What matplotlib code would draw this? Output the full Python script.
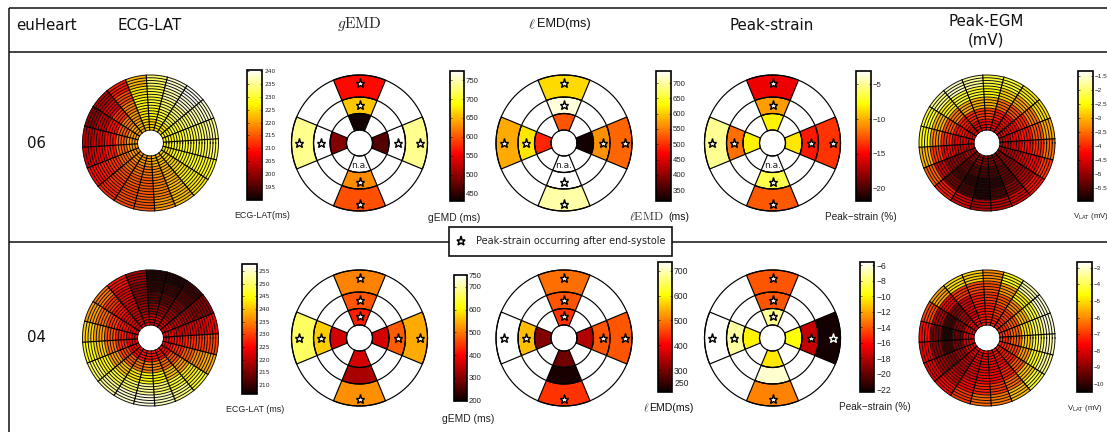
import numpy as np
import matplotlib
matplotlib.use("Agg")
import matplotlib.pyplot as plt
from matplotlib.patches import Rectangle
from matplotlib.collections import PolyCollection
from matplotlib.colors import Normalize
from matplotlib.cm import ScalarMappable
from matplotlib.ticker import FuncFormatter

plt.rcParams['mathtext.fontset'] = 'cm'

W, H = 1107, 432

# ---- Dense maps: 20 sectors clockwise from the top, 5 radial bands inner -> outer
ecg06 = [[224,228,230,231,233],[226,230,233,236,238],[226,231,234,238,240],[227,230,233,236,238],
         [227,229,231,233,235],[227,229,230,231,233],[226,228,229,229,229],[225,225,226,227,226],
         [223,222,222,223,223],[222,219,218,218,220],[220,217,215,215,215],[220,217,215,214,214],
         [220,217,214,212,211],[220,216,212,210,209],[220,216,210,207,205],[220,215,209,205,203],
         [220,215,209,204,200],[221,218,212,206,203],[222,220,218,214,210],[224,226,228,226,222]]
egm06 = [[-4.2,-3.8,-3.0,-2.5,-2.2],[-4.3,-4.1,-3.5,-2.8,-2.3],[-4.4,-4.2,-3.7,-3.1,-2.6],[-4.5,-4.3,-4.0,-3.4,-2.7],
         [-4.6,-4.3,-4.1,-3.7,-3.1],[-4.7,-4.5,-4.2,-4.0,-3.5],[-4.8,-4.7,-4.5,-4.3,-3.9],[-5.0,-5.0,-4.9,-4.7,-4.2],
         [-5.1,-5.3,-5.3,-5.0,-4.5],[-5.1,-5.5,-5.7,-5.5,-4.7],[-5.1,-5.5,-5.8,-5.8,-4.8],[-5.0,-5.4,-5.7,-5.5,-4.5],
         [-5.0,-5.3,-5.5,-5.2,-4.1],[-4.8,-5.0,-5.0,-4.6,-3.6],[-4.6,-4.6,-4.4,-3.9,-3.0],[-4.5,-4.4,-4.0,-3.3,-2.5],
         [-4.4,-4.2,-3.7,-3.0,-2.3],[-4.4,-4.1,-3.4,-2.6,-1.9],[-4.4,-4.0,-3.1,-2.3,-1.6],[-4.3,-3.9,-3.0,-2.3,-1.8]]
ecg04 = [[221,216,212,209,208],[222,217,213,210,208],[222,218,215,212,210],[223,220,218,216,216],
         [224,222,222,222,224],[225,226,228,229,230],[225,228,232,236,238],[225,231,237,243,246],
         [226,233,240,247,251],[226,235,244,250,254],[226,235,245,252,256],[226,234,243,250,255],
         [225,232,240,247,252],[225,230,237,244,249],[224,228,234,241,245],[224,227,231,237,241],
         [224,226,229,233,237],[223,224,226,229,234],[222,221,222,223,226],[221,218,216,216,218]]
egm04 = [[-7.3,-7.3,-7.0,-6.7,-6.0],[-7.3,-7.0,-6.6,-5.8,-4.5],[-7.2,-6.9,-6.0,-4.8,-3.3],[-7.1,-6.6,-5.5,-4.2,-3.0],
         [-7.0,-6.4,-5.0,-3.9,-3.0],[-7.1,-6.5,-5.2,-4.0,-3.2],[-7.2,-6.9,-5.8,-4.5,-3.5],[-7.4,-7.3,-6.6,-5.3,-4.3],
         [-7.5,-7.6,-7.2,-6.4,-5.4],[-7.6,-7.7,-7.6,-7.0,-6.2],[-7.6,-7.8,-7.7,-7.2,-6.4],[-7.7,-8.0,-8.0,-7.6,-7.0],
         [-7.8,-8.4,-8.5,-8.2,-7.6],[-7.9,-8.7,-9.0,-8.7,-7.9],[-8.0,-9.2,-9.8,-9.0,-7.8],[-8.0,-9.3,-10.2,-9.2,-7.5],
         [-7.9,-9.0,-9.8,-8.6,-6.8],[-7.8,-8.6,-9.0,-7.8,-5.7],[-7.6,-8.0,-8.0,-7.0,-5.0],[-7.4,-7.5,-7.3,-6.8,-5.2]]

# ---- Bullseyes: sectors top, right, bottom, left; bands inner, mid, outer (None = no value)
N = None
gemd06 = [[435,658,560],[468,N,735],[N,627,597],[493,N,735]]
lemd06 = [[524,725,608],[320,562,536],[N,N,703],[494,617,579]]
strain06 = [[-8.1,-10.5,-15.3],[-8.5,-14.2,-13.5],[N,-6.4,-12.4],[-8.1,-11.8,-5.1]]
gemd04 = [[425,470,508],[365,475,541],[365,332,519],[365,568,662]]
lemd04 = [[444,470,491],[344,470,470],[292,225,444],[308,553,N]]
strain04 = [[-7.4,-14.1,-14.1],[-9.8,-17.6,-22.0],[-10.4,-6.4,-12.9],[-10.1,-7.2,N]]

# stars: 1 = late peak strain at that cell
stars06 = [[0,1,1],[0,1,1],[0,1,1],[0,1,1]]
stars04_gemd = [[1,1,1],[0,1,1],[0,0,1],[0,1,1]]
stars04_lemd = [[1,1,1],[0,1,1],[0,0,1],[0,1,1]]
stars04_strain = [[1,1,1],[0,1,2],[0,0,1],[0,1,1]]

# ---- Colourbar limits and ticks
lim_ecg06, tick_ecg06 = (190, 240.5), [195,200,205,210,215,220,225,230,235,240]
lim_gemd06, tick_gemd06 = (430, 775), [450,500,550,600,650,700,750]
lim_lemd06, tick_lemd06 = (315, 741), [350,400,450,500,550,600,650,700]
lim_str06, tick_str06 = (-21.7, -3.05), [-20,-15,-10,-5]
lim_egm06, tick_egm06 = (-5.94, -1.31), [-5.5,-5,-4.5,-4,-3.5,-3,-2.5,-2,-1.5]
lim_ecg04, tick_ecg04 = (206.3, 257.6), [210,215,220,225,230,235,240,245,250,255]
lim_gemd04, tick_gemd04 = (200, 750), [200,300,400,500,600,700,750]
lim_lemd04, tick_lemd04 = (214, 736), [250,300,400,500,600,700]
lim_str04, tick_str04 = (-22.3, -5.57), [-22,-20,-18,-16,-14,-12,-10,-8,-6]
lim_egm04, tick_egm04 = (-10.46, -2.64), [-10,-9,-8,-7,-6,-5,-4,-3]

cmap = plt.get_cmap('hot').copy()
cmap.set_bad('white')

fig = plt.figure(figsize=(W/100, H/100), dpi=100, facecolor='white')


def px_axes(x0, y0, x1, y1, **kw):
    return fig.add_axes([x0/W, 1-y1/H, (x1-x0)/W, (y1-y0)/H], **kw)


RAD = 68.0
HOLE = 13.0
NRINGS = 20


def disk_axes(cx, cy):
    ax = px_axes(cx-72, cy-72, cx+72, cy+72)
    ax.set_xlim(-72, 72)
    ax.set_ylim(-72, 72)
    ax.set_aspect('equal')
    ax.axis('off')
    return ax


def cell(r0, r1, t0, t1):
    th = np.deg2rad(np.linspace(t0, t1, 24))
    xo, yo = r1*np.cos(th), r1*np.sin(th)
    xi, yi = r0*np.cos(th[::-1]), r0*np.sin(th[::-1])
    return np.column_stack([np.r_[xo, xi], np.r_[yo, yi]])


def circle_line(ax, r, **kw):
    th = np.linspace(0, 2*np.pi, 181)
    ax.plot(r*np.cos(th), r*np.sin(th), **kw)


def dense_disk(cx, cy, table, lim):
    ax = disk_axes(cx, cy)
    nbands = len(table[0])
    step = (RAD-HOLE)/nbands
    verts, vals = [], []
    for s, row in enumerate(table):
        t2 = 93.6 - 18*s
        for b, v in enumerate(row):
            verts.append(cell(HOLE+step*b, HOLE+step*(b+1), t2-18, t2))
            vals.append(v)
    pc = PolyCollection(verts, cmap=cmap, norm=Normalize(*lim), edgecolors='face', linewidths=0.3)
    pc.set_array(np.array(vals, float))
    ax.add_collection(pc)
    for i in range(NRINGS+1):
        circle_line(ax, HOLE + (RAD-HOLE)*i/NRINGS, color='#111111', lw=0.7)
    for s in range(len(table)):
        t = np.deg2rad(93.6 - 18*s)
        ax.plot([HOLE*np.cos(t), RAD*np.cos(t)], [HOLE*np.sin(t), RAD*np.sin(t)], color='black', lw=0.85)


BANDS = [13.0, 29.5, 46.0, 68.0]
STAR_R = [22.5, 38.5, 60.5]
CENTRES = [90, 0, -90, 180]


def bullseye(cx, cy, table, stars, lim, na=False):
    ax = disk_axes(cx, cy)
    verts, vals = [], []
    for s, row in enumerate(table):
        for b, v in enumerate(row):
            verts.append(cell(BANDS[b], BANDS[b+1], CENTRES[s]-22.5, CENTRES[s]+22.5))
            vals.append(np.nan if v is None else v)
    pc = PolyCollection(verts, cmap=cmap, norm=Normalize(*lim), edgecolors='black', linewidths=0.85)
    pc.set_array(np.ma.masked_invalid(vals))
    ax.add_collection(pc)
    for r in BANDS:
        circle_line(ax, r, color='black', lw=0.85)
    for s, row in enumerate(stars):
        t = np.deg2rad(CENTRES[s])
        for b, f in enumerate(row):
            if f:
                fc, ec = ('black', 'white') if f == 2 else ('white', 'black')
                ax.plot(STAR_R[b]*np.cos(t), STAR_R[b]*np.sin(t), marker='*', ms=6.6, mfc=fc, mec=ec, mew=1.0, ls='none')
    if na:
        ax.text(0, -22, 'n.a.', ha='center', va='center', fontsize=6.5, family='DejaVu Sans', color='#222222')


def cbar(x0, y0, x1, y1, lim, ticks, size, family='Liberation Sans'):
    cax = px_axes(x0, y0, x1, y1)
    cb = fig.colorbar(ScalarMappable(Normalize(*lim), cmap), cax=cax, ticks=ticks,
                      format=FuncFormatter(lambda v, p: ('%g' % v).replace('-', '\u2212')))
    cb.outline.set_linewidth(1.2)
    cax.tick_params(axis='y', direction='in', length=1.5, width=0.4, pad=1.5, labelsize=size, left=True, right=True)
    for t in cax.get_yticklabels():
        t.set_family(family)
        t.set_color('#222222')


# overlay in pixel units for the table rules and texts
ov = fig.add_axes([0, 0, 1, 1], zorder=5)
ov.set_xlim(0, W)
ov.set_ylim(H, 0)
ov.axis('off')
ov.patch.set_alpha(0)
rule = dict(color='#111111', lw=1.1, solid_capstyle='butt')
ov.plot([9, W], [8, 8], **rule)
ov.plot([9, W], [52.3, 52.3], **rule)
ov.plot([9, W], [241.7, 241.7], **rule)
ov.plot([9, 9], [8, H], **rule)
ov.add_patch(Rectangle((448.5, 226.7), 223, 29, fc='white', ec='#111111', lw=1.2, zorder=3))
ov.plot([461], [241], marker='*', ms=6.6, mfc='white', mec='black', mew=1.1, ls='none', zorder=4)
ov.text(475.5, 241, 'Peak-strain occurring after end-systole', fontsize=7.05, family='DejaVu Sans',
        va='center', ha='left', color='#222222', zorder=4)

head = dict(fontsize=10.8, family='DejaVu Sans', ha='center', va='center', color='#111111')
ov.text(46.5, 25, 'euHeart', **head)
ov.text(150, 25, 'ECG-LAT', **head)
ov.text(359, 24, r'$g\mathrm{EMD}$', fontsize=11, ha='center', va='center', color='#222222')
ov.text(528, 24, r'$\ell$', fontsize=10, ha='left', va='center', color='#222222')
ov.text(537, 24, 'EMD(ms)', fontsize=9.2, family='Liberation Sans', ha='left', va='center', color='#111111')
ov.text(772, 25, 'Peak-strain', **head)
ov.text(986, 21, 'Peak-EGM', **head)
ov.text(986, 40, '(mV)', **head)
ov.text(37, 143, '06', **head)
ov.text(37, 338, '04', **head)

lab = dict(family='Liberation Sans', ha='center', va='center', color='#222222')
ov.text(262, 216, 'ECG-LAT(ms)', fontsize=6.4, **lab)
ov.text(454, 218, 'gEMD (ms)', fontsize=7.4, **lab)
ov.text(629, 216.5, r'$\ell\mathrm{EMD}$', fontsize=8.6, ha='left', va='center', color='#333333')
ov.text(668, 216.5, '(ms)', fontsize=7.6, family='Liberation Sans', ha='left', va='center', color='#111111')
ov.text(861, 216.5, 'Peak\u2212strain (%)', fontsize=7.2, **lab)
ov.text(1073, 216, r'V$_{\mathrm{LAT}}$ (mV)', fontsize=5.6, family='Liberation Sans', ha='left', va='center', color='#222222',
        math_fontfamily='dejavusans')
ov.text(255.5, 410, 'ECG-LAT (ms)', fontsize=6.4, **lab)
ov.text(468, 419, 'gEMD (ms)', fontsize=7.4, **lab)
ov.text(643, 408, r'$\ell$', fontsize=8, ha='left', va='center', color='#333333')
ov.text(649, 408, 'EMD(ms)', fontsize=7.6, family='Liberation Sans', ha='left', va='center', color='#111111')
ov.text(874.5, 407.5, 'Peak\u2212strain (%)', fontsize=7.2, **lab)
ov.text(1085, 408, r'V$_{\mathrm{LAT}}$ (mV)', fontsize=5.6, family='Liberation Sans', ha='center', va='center', color='#222222',
        math_fontfamily='dejavusans')

# row 06
dense_disk(150.5, 143, ecg06, lim_ecg06)
bullseye(359.5, 143, gemd06, stars06, lim_gemd06, na=True)
bullseye(564, 143, lemd06, stars06, lim_lemd06, na=True)
bullseye(772.5, 143, strain06, stars06, lim_str06, na=True)
dense_disk(987, 143, egm06, lim_egm06)
cbar(247, 69.7, 262, 200, lim_ecg06, tick_ecg06, 4.2, 'DejaVu Sans')
cbar(449.5, 70.7, 464, 201, lim_gemd06, tick_gemd06, 5.6)
cbar(656, 70.7, 671, 200.7, lim_lemd06, tick_lemd06, 5.6)
cbar(856, 70.7, 871, 200.7, lim_str06, tick_str06, 5.6)
cbar(1078, 70.7, 1093, 200.7, lim_egm06, tick_egm06, 4.6)

# row 04
dense_disk(150.5, 338, ecg04, lim_ecg04)
bullseye(359.5, 338, gemd04, stars04_gemd, lim_gemd04)
bullseye(564, 338, lemd04, stars04_lemd, lim_lemd04)
bullseye(772.5, 338, strain04, stars04_strain, lim_str04)
dense_disk(987, 338, egm04, lim_egm04)
cbar(241.5, 264.3, 256.5, 394.3, lim_ecg04, tick_ecg04, 4.4, 'DejaVu Sans')
cbar(453.5, 275.3, 466.5, 400.7, lim_gemd04, tick_gemd04, 5.6)
cbar(658, 261.7, 672, 391.7, lim_lemd04, tick_lemd04, 6.2)
cbar(859.5, 261.7, 874, 391.7, lim_str04, tick_str04, 6.2)
cbar(1076.5, 261.7, 1092, 391.7, lim_egm04, tick_egm04, 4.4)

fig.savefig('out.png', dpi=100)
